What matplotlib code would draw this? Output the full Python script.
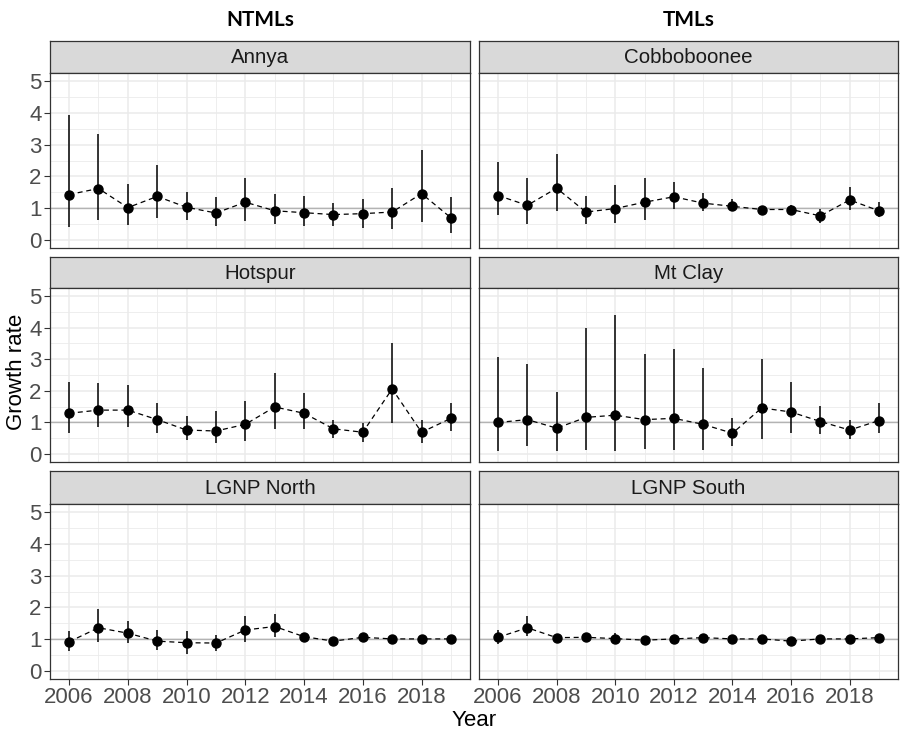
import matplotlib
matplotlib.use("Agg")
import matplotlib.pyplot as plt
from matplotlib.ticker import MultipleLocator

years = list(range(2006, 2020))

sites = ["Annya", "Cobboboonee", "Hotspur", "Mt Clay", "LGNP North", "LGNP South"]

annya_mean = [1.43, 1.62, 1.02, 1.37, 1.03, 0.85, 1.19, 0.92, 0.86, 0.80, 0.83, 0.88, 1.46, 0.70]
annya_low = [0.42, 0.63, 0.47, 0.70, 0.63, 0.44, 0.60, 0.50, 0.44, 0.44, 0.37, 0.34, 0.56, 0.23]
annya_high = [3.94, 3.34, 1.75, 2.35, 1.51, 1.36, 1.95, 1.45, 1.39, 1.16, 1.29, 1.63, 2.82, 1.36]

cobbo_mean = [1.40, 1.09, 1.63, 0.88, 0.99, 1.19, 1.36, 1.16, 1.06, 0.96, 0.96, 0.76, 1.26, 0.92]
cobbo_low = [0.80, 0.49, 0.92, 0.49, 0.53, 0.63, 0.99, 0.92, 0.92, 0.86, 0.78, 0.53, 0.96, 0.71]
cobbo_high = [2.45, 1.95, 2.71, 1.39, 1.72, 1.95, 1.82, 1.48, 1.29, 1.05, 1.09, 0.98, 1.68, 1.19]

hot_mean = [1.29, 1.39, 1.39, 1.09, 0.76, 0.73, 0.94, 1.49, 1.29, 0.80, 0.69, 2.06, 0.69, 1.13]
hot_low = [0.67, 0.86, 0.86, 0.67, 0.44, 0.34, 0.41, 0.80, 0.80, 0.51, 0.38, 0.99, 0.34, 0.74]
hot_high = [2.28, 2.25, 2.18, 1.62, 1.19, 1.35, 1.68, 2.55, 1.92, 1.09, 0.99, 3.51, 1.09, 1.62]

clay_mean = [1.00, 1.09, 0.82, 1.16, 1.23, 1.09, 1.13, 0.94, 0.66, 1.46, 1.33, 1.03, 0.76, 1.06]
clay_low = [0.09, 0.26, 0.09, 0.13, 0.09, 0.16, 0.13, 0.13, 0.27, 0.47, 0.67, 0.63, 0.47, 0.67]
clay_high = [3.07, 2.85, 1.95, 3.99, 4.41, 3.15, 3.32, 2.73, 1.13, 2.99, 2.29, 1.53, 1.09, 1.62]

north_mean = [0.92, 1.36, 1.19, 0.94, 0.89, 0.88, 1.29, 1.40, 1.08, 0.94, 1.06, 1.01, 1.01, 1.01]
north_low = [0.63, 0.92, 0.87, 0.66, 0.55, 0.63, 0.92, 1.06, 0.97, 0.87, 1.00, 0.98, 0.98, 0.98]
north_high = [1.27, 1.95, 1.58, 1.30, 1.27, 1.13, 1.72, 1.80, 1.19, 1.03, 1.11, 1.04, 1.04, 1.04]

south_mean = [1.06, 1.36, 1.05, 1.06, 1.02, 0.97, 1.01, 1.05, 1.01, 1.01, 0.94, 1.01, 1.01, 1.05]
south_low = [0.84, 1.11, 0.97, 0.95, 0.92, 0.93, 0.97, 1.00, 0.97, 0.97, 0.90, 0.97, 0.97, 1.00]
south_high = [1.29, 1.72, 1.13, 1.21, 1.19, 1.01, 1.06, 1.12, 1.05, 1.05, 0.98, 1.05, 1.05, 1.10]

means = [annya_mean, cobbo_mean, hot_mean, clay_mean, north_mean, south_mean]
lows = [annya_low, cobbo_low, hot_low, clay_low, north_low, south_low]
highs = [annya_high, cobbo_high, hot_high, clay_high, north_high, south_high]

col_titles = ["NTMLs", "TMLs"]
x_ticks = [2006, 2008, 2010, 2012, 2014, 2016, 2018]
y_ticks = [0, 1, 2, 3, 4, 5]

W, H = 904, 733
fig = plt.figure(figsize=(W / 100, H / 100), dpi=100)

cols = [(50, 470), (479, 898)]
rows = [(41, 73, 248), (257, 288, 462), (471, 504, 679)]

def fr(x0, y0, x1, y1):
    return [x0 / W, 1 - y1 / H, (x1 - x0) / W, (y1 - y0) / H]

FONT = "Liberation Sans"
TICKC = "#4D4D4D"
BORDER = "#333333"

for i, site in enumerate(sites):
    r, c = divmod(i, 2)
    x0, x1 = cols[c]
    st, sb, pb = rows[r]
    # strip
    sax = fig.add_axes(fr(x0, st, x1, sb))
    sax.set_facecolor("#D9D9D9")
    sax.set_xticks([]); sax.set_yticks([])
    for s in sax.spines.values():
        s.set_color(BORDER); s.set_linewidth(0.9)
    sax.text(0.5, 0.47, site, ha="center", va="center", fontsize=14.8,
             family=FONT, color="#1A1A1A", transform=sax.transAxes)
    # panel
    ax = fig.add_axes(fr(x0, sb, x1, pb))
    ax.set_xlim(2005.35, 2019.65)
    ax.set_ylim(-0.25, 5.25)
    ax.xaxis.set_major_locator(plt.FixedLocator(x_ticks))
    ax.xaxis.set_minor_locator(MultipleLocator(1))
    ax.yaxis.set_major_locator(plt.FixedLocator(y_ticks))
    ax.yaxis.set_minor_locator(MultipleLocator(0.5))
    ax.grid(which="major", color="#EBEBEB", lw=1.1)
    ax.grid(which="minor", color="#EBEBEB", lw=0.6)
    ax.set_axisbelow(True)
    ax.tick_params(which="minor", length=0)
    ax.tick_params(which="major", length=4, width=0.8, color="#333333",
                   labelsize=16, labelcolor=TICKC, pad=2)
    for s in ax.spines.values():
        s.set_color(BORDER); s.set_linewidth(0.9)
    ax.axhline(1, color="#B3B3B3", lw=1.0, zorder=1.5)
    ax.vlines(years, lows[i], highs[i], color="black", lw=1.1, zorder=3)
    ax.plot(years, means[i], color="black", lw=0.9, ls=(0, (4, 3)), zorder=3)
    ax.plot(years, means[i], "o", color="black", ms=6.5, zorder=4)
    if r < 2:
        ax.tick_params(axis="x", labelbottom=False, length=0)
    if c == 1:
        ax.tick_params(axis="y", labelleft=False, length=0)
    for lab in ax.get_xticklabels() + ax.get_yticklabels():
        lab.set_family(FONT)

for c, t in enumerate(col_titles):
    x0, x1 = cols[c]
    fig.text((x0 + x1) / 2 / W, 1 - 20 / H, t, ha="center", va="center",
             fontsize=15, fontweight="bold", family="Lato")

fig.text(474 / W, 1 - 720 / H, "Year", ha="center", va="center",
         fontsize=16, family=FONT)
fig.text(17 / W, 1 - 372 / H, "Growth rate", ha="center", va="center",
         rotation=90, fontsize=16, family=FONT)

fig.savefig("out.png", dpi=100)
